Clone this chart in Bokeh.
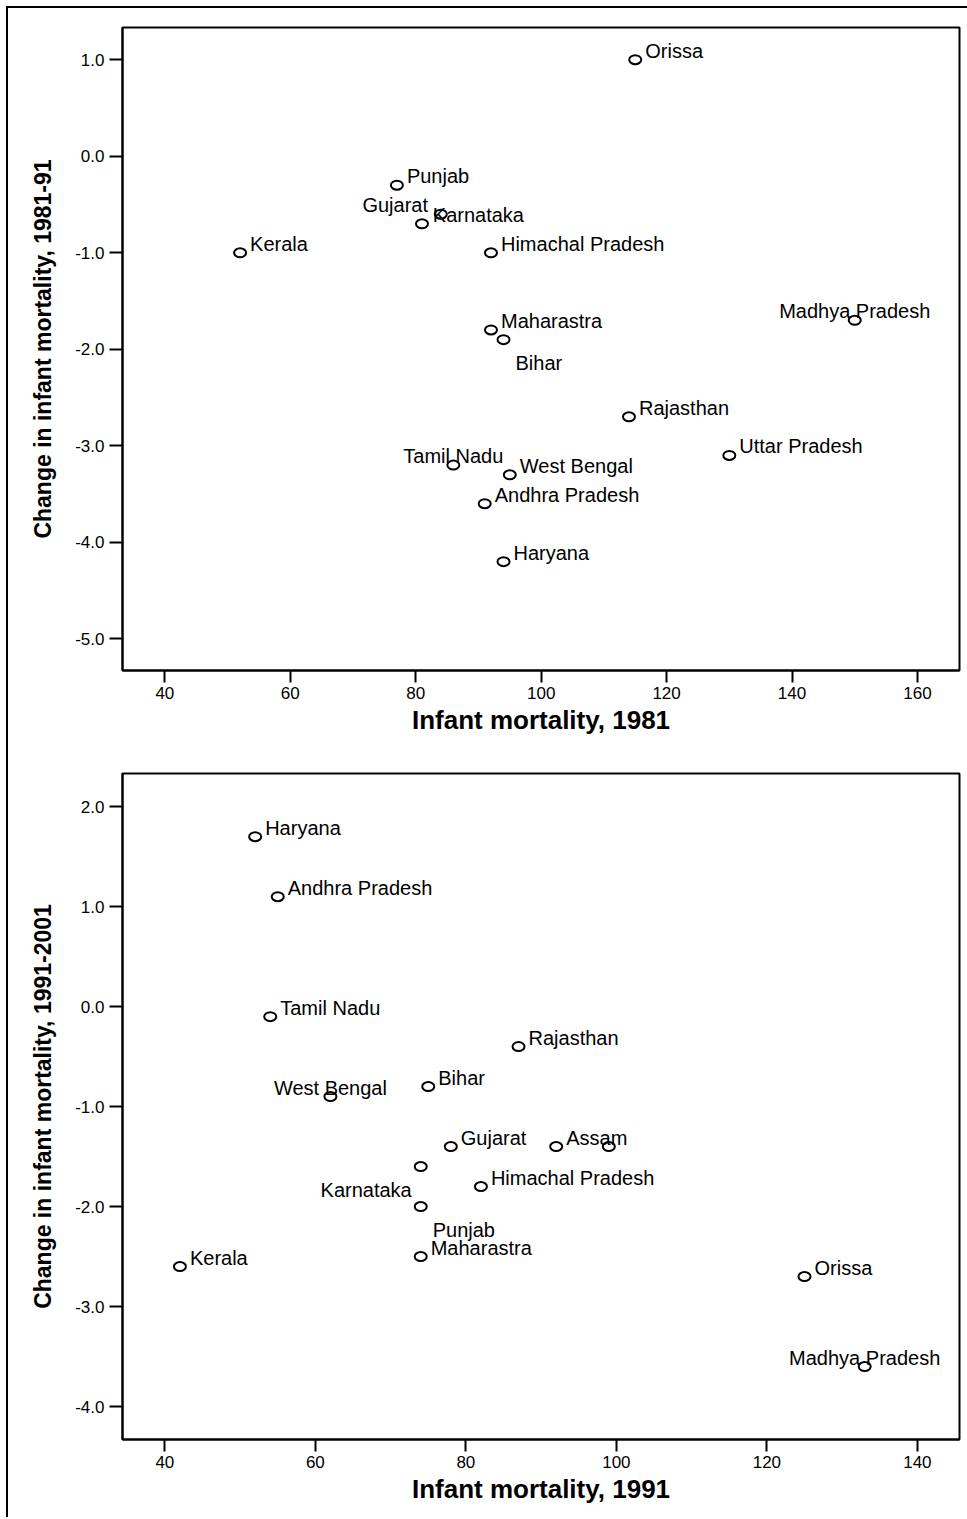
from bokeh.plotting import figure
from bokeh.models import Range1d, FixedTicker, PrintfTickFormatter, ColumnDataSource
from bokeh.layouts import column
from bokeh.core.properties import value
from bokeh.embed import file_html
from bokeh.resources import INLINE

# ---------------- data: panel 1 (1981 -> 1981-91) ----------------
states_1981 = ["Orissa", "Punjab", "Gujarat", "Karnataka", "Kerala", "Himachal Pradesh",
               "Maharastra", "Bihar", "Madhya Pradesh", "Rajasthan", "Uttar Pradesh",
               "West Bengal", "Andhra Pradesh", "Tamil Nadu", "Haryana"]
imr_1981 = [115, 77, 81, 84, 52, 92, 92, 94, 150, 114, 130, 95, 91, 86, 94]
change_1981_91 = [1.0, -0.3, -0.7, -0.6, -1.0, -1.0, -1.8, -1.9, -1.7, -2.7, -3.1, -3.3, -3.6, -3.2, -4.2]

# ---------------- data: panel 2 (1991 -> 1991-2001) ----------------
states_1991 = ["Haryana", "Andhra Pradesh", "Tamil Nadu", "Rajasthan", "West Bengal", "Bihar",
               "Gujarat", "Assam", "", "Karnataka", "Himachal Pradesh", "Punjab", "Maharastra",
               "Kerala", "Orissa", "Madhya Pradesh"]
imr_1991 = [52, 55, 54, 87, 62, 75, 78, 92, 99, 74, 82, 74, 74, 42, 125, 133]
change_1991_2001 = [1.7, 1.1, -0.1, -0.4, -0.9, -0.8, -1.4, -1.4, -1.4, -1.6, -1.8, -2.0, -2.5, -2.6, -2.7, -3.6]

xticks_1 = [40, 60, 80, 100, 120, 140, 160]
yticks_1 = [1.0, 0.0, -1.0, -2.0, -3.0, -4.0, -5.0]
xticks_2 = [40, 60, 80, 100, 120, 140]
yticks_2 = [2.0, 1.0, 0.0, -1.0, -2.0, -3.0, -4.0]

# ---------------- label placement (style) ----------------
PLACE = {
    "tr": ("left", 10, -9),
    "tc": ("center", 0, -9),
    "br": ("left", 12, 23),
    "bl": ("right", -9, 23),
    "gj": ("right", 6, -19),
    "kn": ("left", -8, 1),
}
places_1 = ["tr", "tr", "gj", "kn", "tr", "tr", "tr", "br", "tc", "tr", "tr", "tr", "tr", "tc", "tr"]
places_2 = ["tr", "tr", "tr", "tr", "tc", "tr", "tr", "tr", "tr", "bl", "tr", "br", "tr", "tr", "tr", "tc"]

FONT = "Liberation Sans"


def panel(xs, ys, labels, places, xr, yr, xticks, yticks, xlabel, ylabel,
          height, mb_top, mb_bottom):
    p = figure(width=959, height=height, x_range=Range1d(*xr), y_range=Range1d(*yr),
               output_backend="svg", toolbar_location=None,
               min_border_left=114, min_border_right=8,
               min_border_top=mb_top, min_border_bottom=mb_bottom)
    p.grid.visible = False
    p.background_fill_color = "white"
    p.border_fill_color = "white"
    p.outline_line_color = "black"
    p.outline_line_width = 2
    p.outline_line_alpha = 1.0

    src = ColumnDataSource(dict(
        x=xs, y=ys, label=labels,
        align=[PLACE[k][0] for k in places],
        dx=[PLACE[k][1] for k in places],
        dy=[PLACE[k][2] for k in places],
    ))
    p.ellipse(x="x", y="y", width=12, height=9, width_units="screen", height_units="screen",
              source=src, fill_color=None, line_color="black", line_width=2)
    p.text(x="x", y="y", text="label", source=src, text_align="align",
           text_baseline="alphabetic", x_offset="dx", y_offset="dy",
           text_font=value(FONT), text_font_size="20px", text_color="black")

    for ax in (p.xaxis[0], p.yaxis[0]):
        ax.axis_line_color = "black"
        ax.axis_line_width = 2
        ax.major_tick_line_color = "black"
        ax.major_tick_line_width = 2
        ax.major_tick_in = 0
        ax.minor_tick_line_color = None
        ax.major_label_text_font = FONT
        ax.major_label_text_font_size = "17px"
        ax.major_label_text_color = "black"
        ax.axis_label_text_font = FONT
        ax.axis_label_text_font_style = "bold"
        ax.axis_label_text_color = "black"

    p.xaxis[0].ticker = FixedTicker(ticks=xticks)
    p.xaxis[0].formatter = PrintfTickFormatter(format="%d")
    p.xaxis[0].major_tick_out = 12
    p.xaxis[0].major_label_standoff = 4
    p.xaxis[0].axis_label = xlabel
    p.xaxis[0].axis_label_text_font_size = "26px"
    p.xaxis[0].axis_label_standoff = 3

    p.yaxis[0].ticker = FixedTicker(ticks=yticks)
    p.yaxis[0].formatter = PrintfTickFormatter(format="%.1f")
    p.yaxis[0].major_tick_out = 13
    p.yaxis[0].major_label_standoff = 5
    p.yaxis[0].axis_label = ylabel
    p.yaxis[0].axis_label_text_font_size = "23px"
    p.yaxis[0].axis_label_standoff = 16
    return p


p1 = panel(imr_1981, change_1981_91, states_1981, places_1,
           (33.25, 166.7), (-5.328, 1.334), xticks_1, yticks_1,
           "Infant mortality, 1981", "Change in infant mortality, 1981-91",
           745, 19, 83)
p2 = panel(imr_1991, change_1991_2001, states_1991, places_2,
           (34.37, 145.6), (-4.33, 2.332), xticks_2, yticks_2,
           "Infant mortality, 1991", "Change in infant mortality, 1991-2001",
           764, 20, 78)

layout = column(p1, p2, spacing=0,
                styles={"border-left": "2px solid black", "border-top": "2px solid black",
                        "margin-left": "6px", "margin-top": "6px"})

open("out.html", "w").write(file_html(layout, INLINE))
